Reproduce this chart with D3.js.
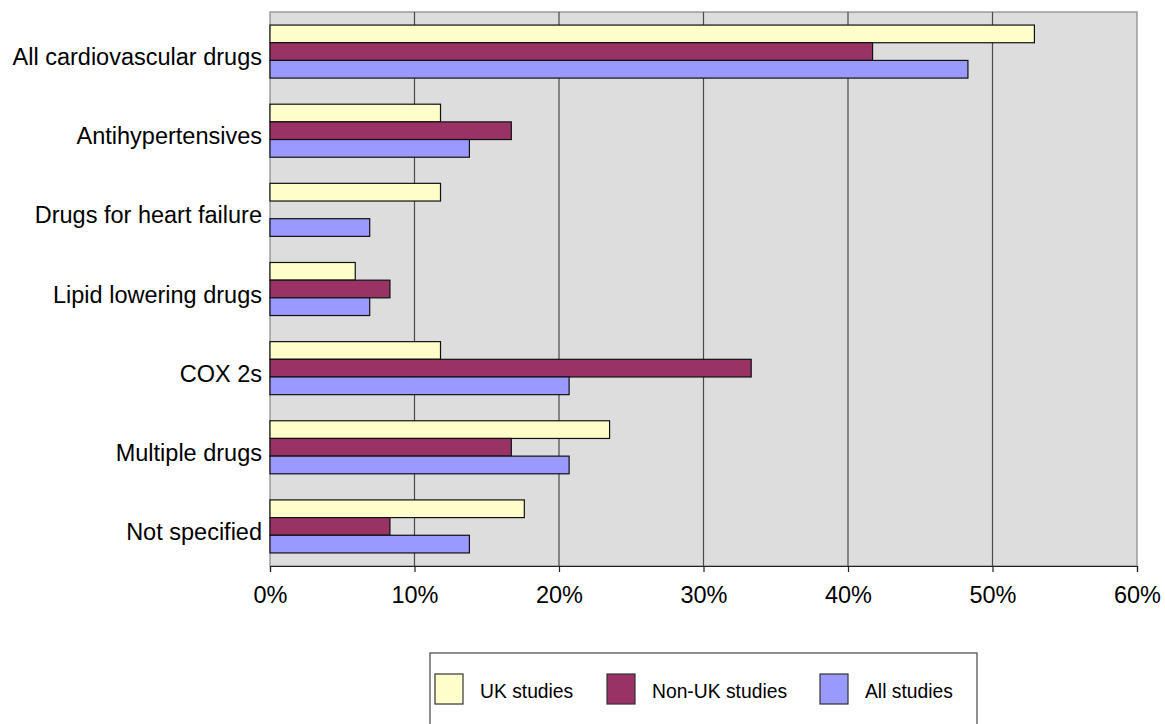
<!DOCTYPE html>
<html>
<head>
<meta charset="utf-8">
<script src="https://cdn.jsdelivr.net/npm/d3@7"></script>
<style>
  body { margin: 0; background: #fff; }
  svg text { font-family: "Liberation Sans", Arial, sans-serif; fill: #000; }
</style>
</head>
<body>
<script>
// categories, top to bottom
var categories = ["All cardiovascular drugs", "Antihypertensives", "Drugs for heart failure",
  "Lipid lowering drugs", "COX 2s", "Multiple drugs", "Not specified"];
var seriesNames = ["UK studies", "Non-UK studies", "All studies"];
var seriesColors = ["#FFFFCC", "#993366", "#9999FF"];
// percentages
var ukStudies    = [52.9, 11.8, 11.8, 5.9, 11.8, 23.5, 17.6];
var nonUkStudies = [41.7, 16.7, 0,    8.3, 33.3, 16.7, 8.3];
var allStudies   = [48.3, 13.8, 6.9,  6.9, 20.7, 20.7, 13.8];
var xTicks = [0, 10, 20, 30, 40, 50, 60];

var width = 1165, height = 724;
var plot = { left: 270, right: 1137, top: 12, bottom: 566 };

var svg = d3.select("body").append("svg")
    .attr("width", width)
    .attr("height", height);

var x = d3.scaleLinear().domain([0, 60]).range([plot.left, plot.right]);
var y = d3.scaleBand().domain(categories).range([plot.top, plot.bottom])
    .paddingInner(0.33).paddingOuter(0.165);
var ySub = d3.scaleBand().domain(d3.range(3)).range([0, y.bandwidth()]);

// plot background
svg.append("rect")
    .attr("x", plot.left).attr("y", plot.top)
    .attr("width", plot.right - plot.left).attr("height", plot.bottom - plot.top)
    .attr("fill", "#DDDDDD").attr("stroke", "#888").attr("stroke-width", 1.2);

// gridlines
svg.append("g").selectAll("line")
    .data(xTicks.slice(1, -1))
  .enter().append("line")
    .attr("x1", function(d) { return x(d); }).attr("x2", function(d) { return x(d); })
    .attr("y1", plot.top).attr("y2", plot.bottom)
    .attr("stroke", "#4a4a4a").attr("stroke-width", 1.2);

// bars
var rows = categories.map(function(c, i) {
  return { cat: c, vals: [ukStudies[i], nonUkStudies[i], allStudies[i]] };
});
var groups = svg.append("g").selectAll("g")
    .data(rows)
  .enter().append("g")
    .attr("transform", function(d) { return "translate(0," + y(d.cat) + ")"; });
groups.selectAll("rect")
    .data(function(d) { return d.vals.map(function(v, k) { return { v: v, k: k }; }); })
  .enter().append("rect")
    .filter(function(d) { return d.v > 0; })
    .attr("x", x(0))
    .attr("y", function(d) { return ySub(d.k); })
    .attr("width", function(d) { return x(d.v) - x(0); })
    .attr("height", ySub.bandwidth())
    .attr("fill", function(d) { return seriesColors[d.k]; })
    .attr("stroke", "#111").attr("stroke-width", 1.2);

// x axis
var xAxis = d3.axisBottom(x).tickValues(xTicks)
    .tickFormat(function(d) { return d + "%"; })
    .tickSize(6).tickPadding(14);
var gx = svg.append("g").attr("transform", "translate(0," + plot.bottom + ")").call(xAxis);
gx.select(".domain").attr("stroke", "#222").attr("stroke-width", 1.2);
gx.selectAll(".tick line").attr("stroke", "#222").attr("stroke-width", 1.2);
gx.selectAll("text").style("font-size", "23.5px")
    .style("font-family", "'Liberation Sans', Arial, sans-serif").attr("fill", "#000");

// y axis labels
var yAxis = d3.axisLeft(y).tickSize(0).tickPadding(8);
var gy = svg.append("g").attr("transform", "translate(" + plot.left + ",0)").call(yAxis);
gy.select(".domain").remove();
gy.selectAll("text").style("font-size", "23.5px")
    .style("font-family", "'Liberation Sans', Arial, sans-serif")
    .attr("fill", "#000").attr("dy", "0.58em");

// legend
var legend = svg.append("g");
legend.append("rect")
    .attr("x", 430).attr("y", 653).attr("width", 547).attr("height", 80)
    .attr("fill", "#fff").attr("stroke", "#444").attr("stroke-width", 1.2);
var legendX = [435, 607, 820];
var items = legend.selectAll("g.item")
    .data(seriesNames)
  .enter().append("g").attr("class", "item")
    .attr("transform", function(d, i) { return "translate(" + legendX[i] + ",674)"; });
items.append("rect")
    .attr("width", 28).attr("height", 30)
    .attr("fill", function(d, i) { return seriesColors[i]; })
    .attr("stroke", "#333").attr("stroke-width", 1.2);
items.append("text")
    .attr("x", 45).attr("y", 24)
    .style("font-size", "19.3px")
    .text(function(d) { return d; });
</script>
</body>
</html>
